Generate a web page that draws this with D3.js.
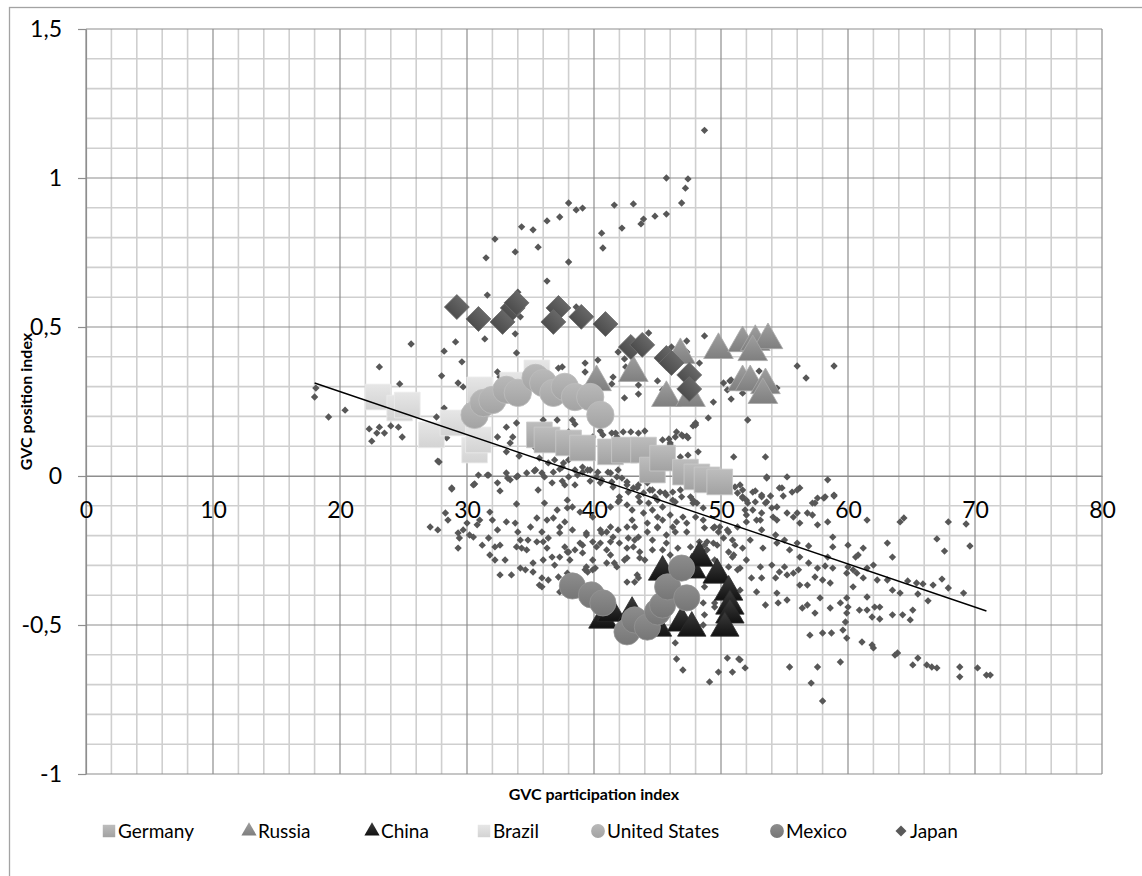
<!DOCTYPE html>
<html>
<head>
<meta charset="utf-8">
<script src="https://cdn.jsdelivr.net/npm/d3@7"></script>
<style>
  html, body { margin: 0; padding: 0; background: #fff; }
  svg { display: block; font-family: Lato, "Open Sans", sans-serif; }
</style>
</head>
<body>
<div id="chart"></div>
<script>
// all countries, small markers [GVC participation, GVC position]
const otherCountries = [
  [45.7,1.0],[47.4,0.997],[47.2,0.966],[46.9,0.916],[45.7,0.879],[44.8,0.872],[43.9,0.862],[43.7,0.846],[43.1,0.913],
  [41.6,0.909],[42.2,0.832],[40.6,0.815],[40.7,0.765],[39.1,0.899],[38.6,0.893],[38.0,0.916],[37.3,0.869],[36.3,0.856],
  [35.6,0.768],[35.2,0.826],[34.3,0.836],[33.8,0.752],[38.0,0.718],[36.3,0.654],[32.2,0.795],[31.5,0.732],[31.6,0.607],
  [34.0,0.617],[31.4,0.46],[33.8,0.477],[29.1,0.45],[25.6,0.443],[44.3,0.48],[47.3,0.453],[34.2,0.534],[38.6,0.567],
  [48.7,1.16],
  [28.2,0.419],[33.9,0.413],[29.6,0.383],[29.3,0.312],[29.7,0.299],[28.0,0.336],[23.1,0.366],[24.7,0.309],[18.1,0.295],
  [18.0,0.265],[19.1,0.198],[20.4,0.221],[22.3,0.158],[22.9,0.144],[22.5,0.117],[23.5,0.144],[23.1,0.164],[24.0,0.168],
  [24.6,0.164],[24.9,0.131],[27.7,0.05],[27.6,0.198],[28.2,0.228],[28.8,-0.044],[28.4,0.128],[32.4,0.349],[32.6,0.332],
  [37.2,0.362],[37.5,0.366],[39.3,0.379],[40.3,0.389],[41.5,0.332],[41.4,0.309],[39.3,0.349],[42.4,0.393],[41.9,0.416],
  [43.5,0.275],[43.5,0.305],[45.4,0.289],[45.0,0.319],[45.4,0.255],[48.7,0.47],[48.3,0.379],[50.2,0.312],[50.7,0.319],
  [50.8,0.258],[49.0,0.195],[48.0,0.178],[47.8,0.168],[46.5,0.148],[47.0,0.134],[47.3,0.134],[46.4,0.131],[44.0,0.151],
  [43.5,0.144],[42.9,0.148],[42.3,0.148],[41.4,0.144],[41.8,0.131],[40.5,0.151],[39.9,0.131],[38.5,0.174],[38.3,0.188],
  [38.0,0.148],[37.1,0.188],[36.0,0.188],[33.9,0.178],[33.1,0.164],[33.6,0.131],[33.4,0.111],[32.4,0.131],[33.1,0.081],
  [34.1,0.067],[35.4,0.094],[35.7,0.06],[36.4,0.044],[36.9,0.054],[37.5,0.03],[38.0,0.054],[38.5,0.02],[39.1,0.013],
  [39.7,0.02],[40.2,-0.003],[41.1,0.013],[41.4,-0.02],[41.8,-0.003],[42.6,-0.02],[43.1,-0.04],[43.5,-0.03],[43.9,-0.057],
  [44.4,-0.047],[44.8,-0.07],[45.2,-0.054],[45.7,-0.064],[46.2,-0.081],[46.8,-0.047],[47.6,-0.07],[47.8,-0.091],
  [48.6,-0.107],[51.5,-0.03],[51.7,-0.047],[51.7,-0.07],[52.0,-0.081],[30.9,0.003],[30.6,-0.027],[31.6,0.003],
  [32.4,-0.023],[33.1,0.01],[33.9,-0.003],[34.7,0.01],[35.4,0.02],[33.9,-0.094],
  [27.8,0.047],[31.7,0.003],[33.2,-0.007],[34.0,0.0],[35.3,0.017],[35.9,0.01],[36.1,-0.003],[36.8,0.013],[37.3,0.023],
  [37.5,-0.017],[38.0,-0.003],[38.7,0.003],[39.5,0.02],[40.3,0.013],[41.3,0.01],[41.9,0.02],[28.8,-0.04],[30.5,-0.03],
  [32.6,-0.05],[33.4,-0.013],[35.6,-0.047],[36.7,-0.023],[37.7,-0.03],[38.5,-0.03],[39.7,-0.017],[40.5,-0.023],
  [41.5,-0.037],[42.6,-0.03],[43.4,-0.04],[44.2,-0.023],[44.6,-0.047],[45.6,-0.057],[46.2,-0.054],[46.9,-0.07],
  [47.8,-0.081],[42.0,-0.07],[41.9,-0.087],[42.6,-0.097],[43.0,-0.114],[43.6,-0.087],[44.3,-0.091],[43.9,-0.124],
  [44.6,-0.114],[45.4,-0.104],[45.4,-0.148],[46.0,-0.131],[46.5,-0.154],[46.2,-0.171],[47.3,-0.158],[48.0,-0.138],
  [48.7,-0.174],[46.4,-0.188],[45.0,-0.174],[44.2,-0.158],[44.2,-0.188],[43.5,-0.205],[42.6,-0.171],[42.7,-0.208],
  [41.9,-0.181],[41.5,-0.205],[41.0,-0.188],[40.6,-0.191],[39.9,-0.221],[39.4,-0.191],[38.9,-0.225],[38.3,-0.181],
  [37.7,-0.154],[37.3,-0.171],[36.8,-0.141],[37.1,-0.114],[37.9,-0.107],[36.1,-0.091],[36.3,-0.148],[35.5,-0.141],
  [35.0,-0.171],[35.9,-0.188],[36.4,-0.208],[35.5,-0.221],[34.8,-0.215],[34.2,-0.215],[34.3,-0.242],[34.0,-0.188],
  [33.8,-0.158],[33.1,-0.154],[32.4,-0.181],[32.0,-0.148],[31.8,-0.121],[31.0,-0.148],[30.8,-0.164],[30.0,-0.158],
  [29.7,-0.181],[29.3,-0.191],[29.4,-0.208],[29.3,-0.242],[30.2,-0.198],[30.5,-0.205],[28.5,-0.148],[28.3,-0.124],
  [27.7,-0.181],[27.1,-0.171],[31.7,-0.208],[32.2,-0.238],[32.6,-0.232],[31.8,-0.265],[33.0,-0.282],[33.5,-0.332],
  [34.2,-0.309],[34.6,-0.315],[33.9,-0.238],[34.7,-0.248],[35.2,-0.292],[35.2,-0.322],[36.0,-0.282],[36.0,-0.221],
  [36.3,-0.242],[36.7,-0.272],[36.9,-0.299],[37.3,-0.272],[37.7,-0.238],[38.0,-0.255],[38.5,-0.248],[38.1,-0.282],
  [35.9,-0.342],[35.9,-0.372],[37.2,-0.339],[37.9,-0.326],[39.9,-0.282],[40.1,-0.309],[39.3,-0.315],[39.1,-0.258],
  [40.5,-0.225],[41.0,-0.248],[41.3,-0.265],[41.6,-0.292],[42.4,-0.282],[42.6,-0.242],[42.0,-0.225],[43.2,-0.215],
  [43.6,-0.255],[44.0,-0.282],[43.4,-0.332],[42.6,-0.356],[44.6,-0.248],[44.6,-0.215],[45.4,-0.248],[45.7,-0.225],
  [46.0,-0.265],[46.6,-0.242],[47.6,-0.238],[48.3,-0.221],[48.7,-0.232],[49.4,-0.225],[49.4,-0.174],[48.6,-0.148],
  [49.5,-0.282],[48.7,-0.372],[49.5,-0.426],[32.6,-0.332],[32.2,-0.282],[31.2,-0.232],
  [53.6,-0.003],[55.2,-0.003],[58.4,-0.013],[52.5,-0.054],[54.6,-0.04],[55.6,-0.054],[56.2,-0.04],[53.2,-0.064],
  [53.9,-0.067],[54.9,-0.067],[57.4,-0.091],[57.6,-0.074],[58.2,-0.07],[58.9,-0.064],[52.1,-0.091],[52.7,-0.087],
  [53.5,-0.091],[54.0,-0.107],[53.2,-0.124],[54.4,-0.148],[52.0,-0.154],[55.2,-0.124],[55.7,-0.138],[56.8,-0.124],
  [57.2,-0.131],[57.6,-0.164],[58.4,-0.154],[56.2,-0.158],[61.5,-0.148],[64.1,-0.154],[64.4,-0.141],[67.9,-0.154],
  [69.3,-0.161],[50.6,-0.188],[53.2,-0.181],[54.3,-0.198],[55.0,-0.215],[56.0,-0.225],[56.9,-0.235],[58.8,-0.205],
  [60.0,-0.232],[63.1,-0.225],[67.0,-0.211],[69.6,-0.235],[67.6,-0.252],[58.8,-0.238],[61.2,-0.242],[60.6,-0.272],
  [60.8,-0.265],[63.5,-0.272],[51.7,-0.242],[51.0,-0.265],[56.2,-0.272],[58.4,-0.272],[53.1,-0.305],[54.0,-0.299],
  [55.0,-0.305],[56.1,-0.315],[56.9,-0.292],[57.6,-0.309],[58.2,-0.302],[58.8,-0.309],[60.0,-0.305],[60.4,-0.315],
  [60.7,-0.326],[61.5,-0.309],[62.0,-0.299],[51.5,-0.309],[52.4,-0.342],[53.2,-0.342],[54.3,-0.342],[55.2,-0.332],
  [55.7,-0.326],[56.2,-0.366],[56.8,-0.366],[57.4,-0.339],[58.0,-0.349],[58.6,-0.359],[59.9,-0.326],[60.4,-0.372],
  [61.2,-0.342],[62.3,-0.349],[63.1,-0.349],[63.5,-0.383],[64.1,-0.393],[64.7,-0.352],[65.4,-0.359],[65.9,-0.362],
  [66.7,-0.366],[67.4,-0.346],[67.9,-0.376],[69.1,-0.393],[65.5,-0.396],[66.3,-0.419],[51.5,-0.383],[52.8,-0.389],
  [53.5,-0.433],[54.4,-0.393],[54.5,-0.426],[55.2,-0.416],[56.4,-0.443],[56.8,-0.433],[57.4,-0.46],[57.8,-0.409],
  [58.6,-0.443],[59.4,-0.426],[60.0,-0.44],[59.9,-0.46],[59.8,-0.49],[59.6,-0.517],[59.9,-0.544],[60.9,-0.45],
  [61.5,-0.406],[61.5,-0.45],[62.5,-0.44],[62.1,-0.44],[62.5,-0.48],[61.9,-0.473],[63.5,-0.466],[64.3,-0.466],
  [64.9,-0.483],[65.1,-0.45],[61.1,-0.557],[62.0,-0.577],[61.9,-0.567],[63.9,-0.594],[63.7,-0.601],[65.5,-0.611],
  [65.1,-0.634],[66.2,-0.634],[66.6,-0.641],[67.0,-0.644],[68.8,-0.641],[68.8,-0.674],[70.2,-0.644],[70.9,-0.668],
  [71.2,-0.668],[51.5,-0.617],[50.5,-0.611],[51.9,-0.644],[50.9,-0.658],[49.8,-0.658],[49.1,-0.691],[55.4,-0.641],
  [57.6,-0.641],[59.4,-0.624],[57.1,-0.695],[58.0,-0.755],[57.0,-0.534],[58.0,-0.527],[58.7,-0.527],[49.5,-0.44],
  [48.7,-0.466],[48.6,-0.5],[59.9,-0.409],[51.3,-0.057],[51.7,-0.074],[51.9,-0.114],[52.0,-0.131],[52.8,-0.148],
  [49.5,-0.171],[49.8,-0.188],[50.2,-0.208],[50.9,-0.215],[51.1,-0.232],[48.9,-0.221],[49.7,-0.232],[50.6,-0.255],
  [50.9,-0.272],[50.6,-0.305],[51.3,-0.315],
  [46.1,0.433],[47.3,0.416],[42.5,0.366],[56.0,0.369],[58.9,0.369],[56.7,0.329],[53.0,0.352],[50.8,0.322],[50.5,0.289],
  [49.4,0.248],[51.7,0.278],[54.4,0.295],[52.1,0.188],[48.0,0.171],[42.4,0.262],[46.9,0.138],[47.4,0.128],[45.4,0.121],
  [45.9,0.124],[46.0,0.104],[48.2,0.081],[46.8,0.064],[47.4,0.07],[51.0,0.064],[53.5,0.064],[53.6,-0.007],[51.1,-0.037],
  [52.7,-0.05],[53.2,-0.07],[54.8,-0.04],[57.2,-0.091],[58.1,-0.074],[58.9,-0.067],[54.4,-0.104],
  [46.0,0.111],[37.7,0.138],[40.7,0.138],[41.7,0.144],[53.6,-0.087],[56.0,-0.047],[52.5,-0.114],[53.1,-0.148],
  [54.1,-0.138],[56.0,-0.124],[49.9,-0.171],[50.5,-0.181],[51.3,-0.171],[52.3,-0.215],[53.3,-0.242],[54.4,-0.225],
  [55.4,-0.248],[52.0,-0.282],[54.6,-0.322],[37.6,0.044],[39.1,0.03],[40.6,-0.013],[42.2,-0.007],[42.7,-0.054],
  [43.5,-0.07],[45.0,-0.081],[46.4,-0.087],[48.1,-0.091],[37.9,-0.081],[38.3,-0.104],[38.9,-0.121],[39.9,-0.138],
  [41.3,-0.104],[42.0,-0.081],[43.0,-0.148],[45.0,-0.138],[47.0,-0.138],[47.3,-0.188],[37.3,-0.191],[39.4,-0.198],
  [40.5,-0.181],[41.3,-0.171],[43.2,-0.171],[45.0,-0.171],[45.7,-0.198],[41.3,-0.221],[43.1,-0.238],[40.2,-0.238],
  [39.1,-0.232],[37.9,-0.255],[42.6,-0.275],[43.6,-0.275],[41.0,-0.292],[39.9,-0.315],[41.8,-0.305],[48.3,-0.238],
  [48.9,-0.248],
  [46.4,-0.56],[46.5,-0.614],[47.0,-0.651],[51.4,-0.614],[48.6,-0.426],[37.3,-0.389],[35.7,-0.366],[36.4,-0.349],
  [39.4,-0.305],[39.5,-0.322],[43.2,-0.356],[43.5,-0.342]
];

const germany = [
  [35.7,0.138],[36.3,0.121],[38.0,0.111],[39.1,0.094],[41.3,0.081],[42.4,0.087],[43.9,0.087],
  [44.6,0.020],[45.4,0.060],[47.2,0.013],[48.1,-0.003],[48.9,-0.013],[49.9,-0.020]
];
const russia = [
  [40.2,0.315],[43.1,0.346],[45.7,0.262],[46.8,0.406],[47.6,0.262],[49.8,0.423],[51.7,0.446],
  [52.7,0.450],[53.7,0.456],[52.5,0.416],[51.7,0.315],[52.3,0.315],[53.5,0.305],[53.3,0.272]
];
const china = [
  [40.7,-0.483],[41.4,-0.460],[43.0,-0.460],[45.0,-0.510],[45.4,-0.322],[47.7,-0.315],[48.3,-0.275],
  [46.9,-0.493],[47.7,-0.510],[49.7,-0.332],[50.6,-0.389],[50.7,-0.436],[50.7,-0.466],[50.3,-0.510]
];
const brazil = [
  [23.0,0.265],[24.7,0.228],[25.3,0.238],[27.2,0.138],[28.9,0.178],[30.6,0.087],[30.9,0.121],
  [31.0,0.289],[33.6,0.305],[35.5,0.346]
];
const unitedStates = [
  [30.6,0.205],[31.3,0.245],[32.0,0.255],[33.1,0.289],[34.0,0.279],[35.4,0.329],[36.0,0.312],
  [36.8,0.279],[37.7,0.299],[38.5,0.265],[39.7,0.265],[40.5,0.205]
];
const mexico = [
  [38.3,-0.369],[39.8,-0.399],[40.7,-0.426],[42.6,-0.523],[43.2,-0.483],[44.2,-0.507],[45.0,-0.456],
  [45.4,-0.433],[45.8,-0.372],[46.9,-0.309],[47.3,-0.409]
];
const japan = [
  [29.2,0.567],[30.9,0.527],[32.8,0.517],[33.6,0.564],[33.9,0.581],[37.2,0.564],[36.8,0.517],
  [39.0,0.534],[40.9,0.510],[42.9,0.433],[43.8,0.440],[45.7,0.396],[46.1,0.379],[47.5,0.339],[47.5,0.292]
];

// linear trend line, end points
const trendLine = [[18.0, 0.312], [70.9, -0.453]];

const xTicks = [0, 10, 20, 30, 40, 50, 60, 70, 80];
const yTicks = [-1, -0.5, 0, 0.5, 1, 1.5];

const width = 1142;
const height = 876;
const plot = { left: 86, top: 29, right: 1102, bottom: 774 };

const xScale = d3.scaleLinear().domain([0, 80]).range([plot.left, plot.right]);
const yScale = d3.scaleLinear().domain([-1, 1.5]).range([plot.bottom, plot.top]);

const locale = d3.formatLocale({ decimal: ',', thousands: '.', grouping: [3], currency: ['', ''], minus: '-' });
const tickFormat = locale.format('~g');

// marker look per series (Excel grayscale theme)
const series = [
  { key: 'Germany', values: germany, shape: 'square', size: 660, top: '#bdbdbd', bottom: '#a2a2a2', edge: '#c9c9c9' },
  { key: 'Russia', values: russia, shape: 'triangle', size: 380, top: '#9f9f9f', bottom: '#7f7f7f', edge: '#a8a8a8' },
  { key: 'China', values: china, shape: 'triangle', size: 350, top: '#3c3c3c', bottom: '#121212', edge: '#2a2a2a' },
  { key: 'Brazil', values: brazil, shape: 'square', size: 660, top: '#e6e6e6', bottom: '#d3d3d3', edge: '#ebebeb' },
  { key: 'United States', values: unitedStates, shape: 'circle', size: 590, top: '#b9b9b9', bottom: '#a3a3a3', edge: '#bdbdbd' },
  { key: 'Mexico', values: mexico, shape: 'circle', size: 540, top: '#8d8d8d', bottom: '#767676', edge: '#939393' },
  { key: 'Japan', values: japan, shape: 'diamond', size: 310, top: '#676767', bottom: '#4d4d4d', edge: '#6a6a6a' },
];

const symbolTypes = {
  square: d3.symbolSquare,
  diamond: d3.symbolSquare,
  circle: d3.symbolCircle,
  triangle: d3.symbolTriangle,
};

function markerTransform(shape, x, y) {
  return shape === 'diamond' ? `translate(${x},${y}) rotate(45)` : `translate(${x},${y})`;
}

const svg = d3.select('#chart').append('svg')
  .attr('width', width)
  .attr('height', height);

svg.append('rect')
  .attr('width', width)
  .attr('height', height)
  .attr('fill', '#fff');

// chart area border (runs off the right and bottom of the picture)
svg.append('rect')
  .attr('x', 9.5)
  .attr('y', 7.5)
  .attr('width', 1400)
  .attr('height', 1000)
  .attr('fill', 'none')
  .attr('stroke', '#a3a3a3')
  .attr('stroke-width', 1.3);

const defs = svg.append('defs');
series.forEach((s, i) => {
  const grad = defs.append('linearGradient')
    .attr('id', `grad${i}`)
    .attr('x1', 0).attr('y1', 0)
    .attr('x2', 0).attr('y2', 1);
  grad.append('stop').attr('offset', '0%').attr('stop-color', s.top);
  grad.append('stop').attr('offset', '100%').attr('stop-color', s.bottom);
});

// gridlines
const grid = svg.append('g').attr('class', 'grid');
const minorX = d3.range(0, 81, 2).filter(v => v % 10 !== 0);
const minorY = d3.range(-10, 16).map(v => v / 10).filter(v => Math.round(v * 10) % 5 !== 0);

grid.selectAll('.minor-x')
  .data(minorX)
  .enter().append('line')
  .attr('x1', d => xScale(d)).attr('x2', d => xScale(d))
  .attr('y1', plot.top).attr('y2', plot.bottom)
  .attr('stroke', '#cfcfcf')
  .attr('stroke-width', 1.6);

grid.selectAll('.minor-y')
  .data(minorY)
  .enter().append('line')
  .attr('x1', plot.left).attr('x2', plot.right)
  .attr('y1', d => yScale(d)).attr('y2', d => yScale(d))
  .attr('stroke', '#cfcfcf')
  .attr('stroke-width', 1.6);

grid.selectAll('.major-x')
  .data(xTicks)
  .enter().append('line')
  .attr('x1', d => xScale(d)).attr('x2', d => xScale(d))
  .attr('y1', plot.top).attr('y2', plot.bottom)
  .attr('stroke', '#8e8e8e')
  .attr('stroke-width', 1.2);

grid.selectAll('.major-y')
  .data(yTicks)
  .enter().append('line')
  .attr('x1', plot.left).attr('x2', plot.right)
  .attr('y1', d => yScale(d)).attr('y2', d => yScale(d))
  .attr('stroke', '#8e8e8e')
  .attr('stroke-width', 1.2);

// axes
const yAxis = d3.axisLeft(yScale)
  .tickValues(yTicks)
  .tickSize(8)
  .tickSizeOuter(0)
  .tickPadding(16)
  .tickFormat(tickFormat);

const yAxisG = svg.append('g')
  .attr('class', 'axis axis--y')
  .attr('transform', `translate(${plot.left},0)`)
  .call(yAxis);

const xAxis = d3.axisBottom(xScale)
  .tickValues(xTicks)
  .tickSize(0)
  .tickSizeOuter(0)
  .tickPadding(26)
  .tickFormat(tickFormat);

const xAxisG = svg.append('g')
  .attr('class', 'axis axis--x')
  .attr('transform', `translate(0,${yScale(0)})`)
  .call(xAxis);

[yAxisG, xAxisG].forEach((ax) => {
  ax.select('.domain').attr('stroke', '#8e8e8e').attr('stroke-width', 1.2);
  ax.selectAll('.tick line').attr('stroke', '#8e8e8e').attr('stroke-width', 1.2);
  ax.selectAll('.tick text')
    .attr('fill', '#000')
    .style('font-family', 'Lato, sans-serif')
    .style('font-size', '23px');
});

// small markers for all countries
svg.append('g')
  .attr('class', 'others')
  .selectAll('path')
  .data(otherCountries)
  .enter().append('path')
  .attr('d', d3.symbol().type(d3.symbolSquare).size(27))
  .attr('transform', d => markerTransform('diamond', xScale(d[0]), yScale(d[1])))
  .attr('fill', '#575757');

// highlighted countries
series.forEach((s, i) => {
  svg.append('g')
    .attr('class', `series ${s.key}`)
    .selectAll('path')
    .data(s.values)
    .enter().append('path')
    .attr('d', d3.symbol().type(symbolTypes[s.shape]).size(s.size))
    .attr('transform', d => markerTransform(s.shape, xScale(d[0]), yScale(d[1])))
    .attr('fill', `url(#grad${i})`)
    .attr('stroke', s.edge)
    .attr('stroke-width', 0.8);
});

// trend line
svg.append('line')
  .attr('x1', xScale(trendLine[0][0]))
  .attr('y1', yScale(trendLine[0][1]))
  .attr('x2', xScale(trendLine[1][0]))
  .attr('y2', yScale(trendLine[1][1]))
  .attr('stroke', '#000')
  .attr('stroke-width', 1.4);

// axis titles
svg.append('text')
  .attr('transform', `translate(26,${(plot.top + plot.bottom) / 2}) rotate(-90)`)
  .attr('text-anchor', 'middle')
  .attr('dy', '0.35em')
  .style('font-size', '16px')
  .style('font-weight', 'bold')
  .text('GVC position index');

svg.append('text')
  .attr('x', (plot.left + plot.right) / 2)
  .attr('y', 794)
  .attr('text-anchor', 'middle')
  .attr('dy', '0.35em')
  .style('font-size', '16px')
  .style('font-weight', 'bold')
  .text('GVC participation index');

// legend
const legendStarts = [103, 243, 366, 478, 592, 771, 895];
const legendY = 831;
const legendItems = series.map((s, i) => ({
  key: s.key,
  shape: s.shape,
  fill: s.key === 'Japan' ? '#595959' : `url(#grad${i})`,
  x: legendStarts[i],
}));
const legendSizes = { square: 155, triangle: 100, circle: 150, diamond: 60 };

const legend = svg.append('g').attr('class', 'legend');
const item = legend.selectAll('.item')
  .data(legendItems)
  .enter().append('g')
  .attr('class', 'item');

item.append('path')
  .attr('d', d => d3.symbol().type(symbolTypes[d.shape]).size(legendSizes[d.shape])())
  .attr('transform', d => markerTransform(d.shape, d.x + 6, legendY))
  .attr('fill', d => d.fill);

item.append('text')
  .attr('x', d => d.x + 15)
  .attr('y', legendY)
  .attr('dy', '0.35em')
  .style('font-size', '19px')
  .attr('fill', '#000')
  .text(d => d.key);
</script>
</body>
</html>
